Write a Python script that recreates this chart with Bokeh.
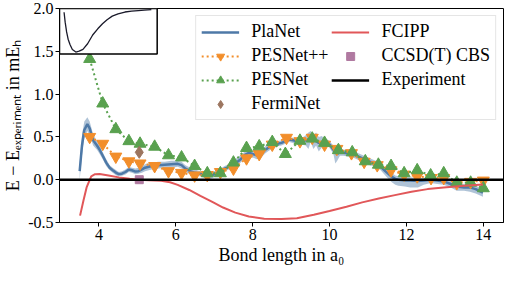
from bokeh.plotting import figure
from bokeh.models import Legend, LegendItem, FixedTicker, Range1d
from bokeh.embed import file_html
from bokeh.resources import INLINE

# ---------------- data ----------------
planet_x = [3.50, 3.56, 3.62, 3.70, 3.76, 3.85, 3.95, 4.02, 4.10, 4.19, 4.28, 4.36, 4.45, 4.52, 4.60,
            4.69, 4.78, 4.86, 4.95, 5.03, 5.12, 5.20, 5.37, 5.55, 5.71, 5.88, 6.05, 6.15, 6.25, 6.38,
            6.50, 6.64, 6.75, 6.85, 6.95, 7.06, 7.17, 7.27, 7.38, 7.48, 7.58, 7.69, 7.80, 7.90, 8.00,
            8.11, 8.22, 8.33, 8.43, 8.54, 8.65, 8.75, 8.85, 8.95, 9.05, 9.15, 9.26, 9.38, 9.45, 9.51,
            9.58, 9.65, 9.72, 9.80, 9.88, 9.95, 10.02, 10.10, 10.15, 10.20, 10.27, 10.36, 10.48, 10.61,
            10.75, 10.90, 11.05, 11.20, 11.33, 11.45, 11.55, 11.62, 11.71, 11.79, 11.96, 12.10, 12.30,
            12.45, 12.63, 12.80, 12.97, 13.15, 13.31, 13.50, 13.65, 13.80, 13.99]
planet_y = [0.10, 0.40, 0.58, 0.65, 0.60, 0.46, 0.40, 0.35, 0.28, 0.20, 0.14, 0.11, 0.08, 0.065, 0.07,
            0.09, 0.12, 0.11, 0.095, 0.10, 0.12, 0.14, 0.16, 0.17, 0.175, 0.18, 0.185, 0.17, 0.13, 0.10,
            0.08, 0.07, 0.05, 0.04, 0.055, 0.075, 0.10, 0.13, 0.15, 0.17, 0.20, 0.24, 0.29, 0.315, 0.30,
            0.285, 0.31, 0.35, 0.38, 0.41, 0.42, 0.43, 0.45, 0.47, 0.46, 0.45, 0.445, 0.46, 0.47, 0.48,
            0.46, 0.45, 0.43, 0.42, 0.43, 0.43, 0.40, 0.35, 0.32, 0.30, 0.32, 0.315, 0.31, 0.30,
            0.27, 0.24, 0.21, 0.185, 0.15, 0.10, 0.06, 0.035, 0.01, 0.00, -0.01, -0.01, -0.015,
            -0.01, 0.00, -0.01, -0.02, -0.05, -0.08, -0.09, -0.09, -0.11, -0.15]
planet_lo = [0.00, 0.28, 0.48, 0.57, 0.52, 0.40, 0.35, 0.30, 0.24, 0.16, 0.11, 0.08, 0.05, 0.04, 0.045,
             0.06, 0.09, 0.08, 0.065, 0.07, 0.08, 0.10, 0.12, 0.13, 0.14, 0.14, 0.15, 0.13, 0.09, 0.06,
             0.05, 0.04, 0.02, 0.00, 0.02, 0.04, 0.07, 0.10, 0.12, 0.13, 0.16, 0.20, 0.25, 0.28, 0.26,
             0.24, 0.26, 0.31, 0.34, 0.37, 0.39, 0.40, 0.42, 0.44, 0.43, 0.42, 0.41, 0.40, 0.36, 0.44,
             0.36, 0.40, 0.33, 0.38, 0.35, 0.40, 0.36, 0.30, 0.19, 0.22, 0.28, 0.28, 0.27, 0.26,
             0.23, 0.20, 0.17, 0.15, 0.11, 0.05, 0.00, -0.03, -0.06, -0.07, -0.08, -0.09, -0.09,
             -0.06, -0.04, -0.05, -0.06, -0.09, -0.13, -0.13, -0.14, -0.16, -0.20]
planet_hi = [0.20, 0.52, 0.68, 0.73, 0.68, 0.53, 0.45, 0.40, 0.32, 0.24, 0.17, 0.14, 0.11, 0.09, 0.10,
             0.12, 0.15, 0.14, 0.13, 0.14, 0.16, 0.18, 0.20, 0.21, 0.21, 0.22, 0.22, 0.21, 0.17, 0.14,
             0.12, 0.10, 0.09, 0.08, 0.09, 0.11, 0.13, 0.16, 0.18, 0.21, 0.25, 0.29, 0.33, 0.35, 0.34,
             0.32, 0.35, 0.39, 0.42, 0.44, 0.45, 0.46, 0.48, 0.50, 0.49, 0.48, 0.48, 0.52, 0.55, 0.57,
             0.52, 0.55, 0.50, 0.51, 0.47, 0.47, 0.44, 0.40, 0.39, 0.36, 0.36, 0.35, 0.35, 0.34,
             0.31, 0.28, 0.25, 0.22, 0.19, 0.14, 0.10, 0.08, 0.05, 0.04, 0.03, 0.03, 0.02,
             0.02, 0.03, 0.02, 0.01, -0.01, -0.04, -0.05, -0.05, -0.07, -0.11]

pesnetpp_x = [3.76, 4.10, 4.44, 4.78, 5.07, 5.45, 5.81, 6.15, 6.49, 6.82, 7.16, 7.50, 7.84, 8.17, 8.51,
              8.88, 9.23, 9.55, 9.87, 10.19, 10.57, 10.90, 11.24, 11.60, 11.94, 12.28, 12.64, 12.97,
              13.31, 13.67, 14.00]
pesnetpp_y = [0.50, 0.42, 0.27, 0.215, 0.19, 0.16, 0.10, 0.08, 0.05, 0.055, 0.09, 0.13, 0.25, 0.30, 0.41,
              0.49, 0.45, 0.49, 0.41, 0.36, 0.31, 0.21, 0.17, 0.11, 0.06, 0.04, 0.02, 0.02,
              -0.04, -0.025, -0.01]

pesnet_x = [3.76, 4.10, 4.44, 4.78, 5.07, 5.45, 5.81, 6.15, 6.49, 6.82, 7.16, 7.50, 7.84, 8.17, 8.51,
            8.85, 9.23, 9.55, 9.87, 10.23, 10.59, 10.93, 11.27, 11.60, 11.94, 12.28, 12.63, 12.97,
            13.31, 13.67, 14.00]
pesnet_y = [1.41, 0.89, 0.59, 0.45, 0.42, 0.385, 0.285, 0.26, 0.16, 0.075, 0.075, 0.20, 0.37, 0.39, 0.44,
            0.30, 0.455, 0.48, 0.43, 0.345, 0.32, 0.215, 0.175, 0.16, 0.075, 0.11, 0.05, 0.075,
            -0.035, -0.035, -0.10]

ferminet_x = [5.05]
ferminet_y = [0.32]

fcipp_x = [3.51, 3.60, 3.68, 3.80, 3.90, 4.02, 4.25, 4.52, 4.80, 5.03, 5.30, 5.62, 5.85, 6.05, 6.35,
           6.64, 6.95, 7.23, 7.55, 7.90, 8.30, 8.75, 9.15, 9.59, 10.00, 10.44, 10.85, 11.28, 11.70,
           12.13, 12.55, 12.97, 13.50, 13.99]
fcipp_y = [-0.42, -0.24, -0.09, 0.04, 0.065, 0.067, 0.05, 0.027, 0.01, 0.0, -0.005, -0.012, -0.03, -0.06,
           -0.12, -0.19, -0.26, -0.325, -0.385, -0.43, -0.455, -0.46, -0.45, -0.41, -0.365, -0.315,
           -0.265, -0.22, -0.18, -0.14, -0.11, -0.09, -0.07, -0.055]

ccsdt_x = [5.05]
ccsdt_y = [0.0]

experiment_y = 0.0

# inset: full potential energy curve (bond length, relative energy)
inset_r = [3.52, 3.65, 3.82, 4.00, 4.22, 4.50, 4.91, 5.30, 5.75, 6.30, 6.90, 7.50, 8.06, 8.60,
           9.21, 9.90, 10.71, 11.50, 12.29, 13.00, 13.83]
inset_e = [0.958, 0.72, 0.484, 0.31, 0.18, 0.06, 0.0, 0.02, 0.065, 0.20, 0.41, 0.56, 0.683, 0.78,
           0.866, 0.92, 0.965, 0.985, 1.0, 1.01, 1.02]

x_ticks = [4, 6, 8, 10, 12, 14]
x_tick_labels = ["4", "6", "8", "10", "12", "14"]
y_ticks = [-0.5, 0.0, 0.5, 1.0, 1.5, 2.0]
y_tick_labels = ["-0.5", "0.0", "0.5", "1.0", "1.5", "2.0"]

# ---------------- style ----------------
BLUE = "#4e79a7"
ORANGE = "#f28e2b"
GREEN = "#59a14f"
BROWN = "#9c755f"
RED = "#e15759"
PURPLE = "#b07aa1"
FONT = "Liberation Serif"
TICK_FS = "16px"
TEXT_FS = "18px"

X0, X1 = 2.975, 14.525
Y0, Y1 = -0.5, 2.0

p = figure(width=505, height=267, x_range=Range1d(X0, X1), y_range=Range1d(Y0, Y1),
           output_backend="svg", toolbar_location=None,
           min_border_left=58, min_border_right=2, min_border_top=8, min_border_bottom=40)
p.background_fill_color = "white"
p.border_fill_color = "white"
p.outline_line_color = "black"
p.outline_line_width = 1
p.xgrid.visible = False
p.ygrid.visible = False

for ax in (p.xaxis[0], p.yaxis[0]):
    ax.axis_line_color = "black"
    ax.major_tick_line_color = "black"
    ax.major_tick_out = 4
    ax.major_tick_in = 0
    ax.minor_tick_line_color = None
    ax.major_label_text_font = FONT
    ax.major_label_text_font_size = TICK_FS
    ax.major_label_text_color = "black"
    ax.axis_label_text_font = FONT
    ax.axis_label_text_font_size = TEXT_FS
    ax.axis_label_text_font_style = "normal"
    ax.axis_label_text_color = "black"
    ax.major_label_standoff = 2
    ax.axis_label_standoff = 2

p.xaxis.ticker = FixedTicker(ticks=x_ticks)
p.xaxis.major_label_overrides = dict(zip(x_ticks, x_tick_labels))
p.yaxis.ticker = FixedTicker(ticks=y_ticks)
p.yaxis.major_label_overrides = dict(zip(y_ticks, y_tick_labels))
p.xaxis.axis_label = "Bond length in a\u2080"
p.yaxis.axis_label = "E \u2212 E\u2091\u2093\u209a\u2091\u1d63\u1d62\u2098\u2091\u2099\u209c in mE\u2095"

# PlaNet band + line
p.varea(x=planet_x, y1=planet_lo, y2=planet_hi, fill_color=BLUE, fill_alpha=0.45)
r_planet = p.line(planet_x, planet_y, line_color=BLUE, line_width=2.5)

# PESNet++
r_pp_line = p.line(pesnetpp_x, pesnetpp_y, line_color=ORANGE, line_width=2, line_dash="2 3")
r_pp_pts = p.scatter(pesnetpp_x, pesnetpp_y, marker="inverted_triangle", size=12,
                     fill_color=ORANGE, line_color=ORANGE)
# PESNet
r_pn_line = p.line(pesnet_x, pesnet_y, line_color=GREEN, line_width=2, line_dash="2 3")
r_pn_pts = p.scatter(pesnet_x, pesnet_y, marker="triangle", size=12,
                     fill_color=GREEN, line_color=GREEN)
# FermiNet
r_fn = p.scatter(ferminet_x, ferminet_y, marker="diamond", size=12,
                 fill_color=BROWN, line_color=BROWN)
# FCIPP
r_fc = p.line(fcipp_x, fcipp_y, line_color=RED, line_width=2)
# CCSD(T)
r_cc = p.scatter(ccsdt_x, ccsdt_y, marker="square", size=8, fill_color=PURPLE, line_color=PURPLE)
# Experiment
r_exp = p.line([X0, X1], [experiment_y, experiment_y], line_color="black", line_width=2.5)

# inset (top-left of frame)
INSET_W = 0.22
INSET_H = 0.213
ix0 = X0
ix1 = X0 + INSET_W * (X1 - X0)
iy1 = Y1
iy0 = Y1 - INSET_H * (Y1 - Y0)
p.quad(left=[ix0], right=[ix1], bottom=[iy0], top=[iy1], fill_color="white",
       line_color="black", line_width=1.5)
rmin, rmax = 3.5, 14.0
emin, emax = 0.0, 1.0
ins_x = [ix0 + (0.045 + 0.91 * (r - rmin) / (rmax - rmin)) * (ix1 - ix0) for r in inset_r]
ins_y = [iy0 + (0.045 + 0.91 * (e - emin) / (emax - emin)) * (iy1 - iy0) for e in inset_e]
p.line(ins_x, ins_y, line_color="#1a1a2a", line_width=1.3)

legend = Legend(items=[
    LegendItem(label="PlaNet", renderers=[r_planet]),
    LegendItem(label="PESNet++", renderers=[r_pp_line, r_pp_pts]),
    LegendItem(label="PESNet", renderers=[r_pn_line, r_pn_pts]),
    LegendItem(label="FermiNet", renderers=[r_fn]),
    LegendItem(label="FCIPP", renderers=[r_fc]),
    LegendItem(label="CCSD(T) CBS", renderers=[r_cc]),
    LegendItem(label="Experiment", renderers=[r_exp]),
], location="top_right", ncols=2)
legend.label_text_font = FONT
legend.label_text_font_size = TEXT_FS
legend.label_text_color = "black"
legend.glyph_width = 38
legend.glyph_height = 20
legend.label_height = 20
legend.label_standoff = 12
legend.spacing = 3
legend.padding = 5
legend.margin = 7
legend.border_line_color = "#cccccc"
legend.border_line_width = 1
legend.background_fill_alpha = 0.85
p.add_layout(legend)

open("out.html", "w").write(file_html(p, INLINE))
